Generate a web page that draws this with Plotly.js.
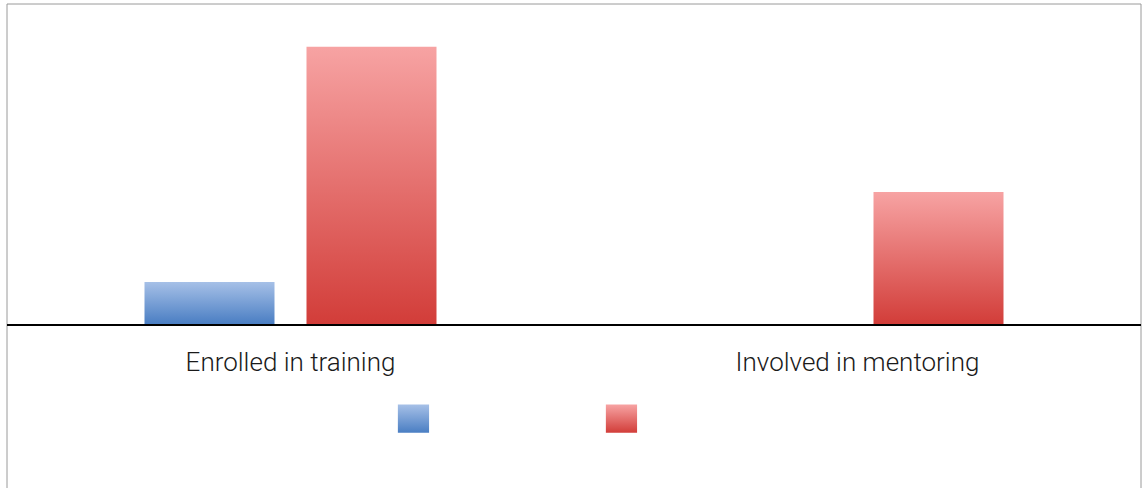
<!DOCTYPE html>
<html>
<head>
<meta charset="utf-8">
<script src="https://cdn.plot.ly/plotly-3.0.1.min.js"></script>
<style>
  html, body { margin: 0; padding: 0; background: #fff; }
  #chart { width: 1145px; height: 488px; }
</style>
</head>
<body>
<div id="chart"></div>
<script>
// ---- data ----
const categories = ["Enrolled in training", "Involved in mentoring"];
const seriesAName = "";
const seriesBName = "";
const seriesAValues = [10.5, 0];
const seriesBValues = [69.3, 33];
const yMax = 80;

const traces = [
  {
    type: "bar",
    x: categories,
    y: seriesAValues,
    name: seriesAName,
    marker: { color: "#7199d3", line: { width: 0 } }
  },
  {
    type: "bar",
    x: categories,
    y: seriesBValues,
    name: seriesBName,
    marker: { color: "#e57371", line: { width: 0 } }
  }
];

const layout = {
  width: 1145,
  height: 488,
  margin: { l: 7, r: 4, t: 4, b: 164, pad: 0 },
  paper_bgcolor: "#ffffff",
  plot_bgcolor: "#ffffff",
  barmode: "group",
  bargap: 0.4286,
  bargroupgap: 0.1975,
  showlegend: true,
  legend: {
    orientation: "h",
    x: 0.3408,
    xanchor: "left",
    y: -0.297,
    yanchor: "middle",
    entrywidth: 163,
    entrywidthmode: "pixels",
    font: { family: "Roboto", size: 14, color: "#222" },
    bgcolor: "rgba(0,0,0,0)"
  },
  xaxis: {
    type: "category",
    showline: true,
    linecolor: "#000000",
    linewidth: 2,
    showgrid: false,
    zeroline: false,
    ticks: "",
    ticklabelstandoff: 14,
    tickfont: { family: "Roboto", weight: 300, size: 26, color: "#1a1a1a" },
    fixedrange: true
  },
  yaxis: {
    range: [0, yMax],
    showline: false,
    showgrid: false,
    zeroline: false,
    showticklabels: false,
    ticks: "",
    fixedrange: true
  },
  shapes: [
    {
      type: "rect",
      xref: "paper", yref: "paper",
      x0: 0, x1: 1, y0: -0.7, y1: 1,
      line: { color: "#9a9a9a", width: 1 },
      fillcolor: "rgba(0,0,0,0)",
      layer: "below"
    }
  ]
};

function applyGradients(gd) {
  const svg = gd.querySelector("svg.main-svg");
  if (!svg) return;
  const ns = "http://www.w3.org/2000/svg";
  let defs = svg.querySelector("defs");
  if (!defs) { defs = document.createElementNS(ns, "defs"); svg.insertBefore(defs, svg.firstChild); }
  const grads = [
    { id: "gradBlue", top: "#a6c0e7", bottom: "#4a7ec3" },
    { id: "gradRed", top: "#f7a3a3", bottom: "#d23d39" }
  ];
  grads.forEach(g => {
    if (defs.querySelector("#" + g.id)) return;
    const lg = document.createElementNS(ns, "linearGradient");
    lg.setAttribute("id", g.id);
    lg.setAttribute("x1", "0"); lg.setAttribute("y1", "0");
    lg.setAttribute("x2", "0"); lg.setAttribute("y2", "1");
    const s1 = document.createElementNS(ns, "stop");
    s1.setAttribute("offset", "0"); s1.setAttribute("stop-color", g.top);
    const s2 = document.createElementNS(ns, "stop");
    s2.setAttribute("offset", "1"); s2.setAttribute("stop-color", g.bottom);
    lg.appendChild(s1); lg.appendChild(s2);
    defs.appendChild(lg);
  });
  gd.querySelectorAll(".barlayer .trace.bars").forEach((tg, i) => {
    const id = i === 0 ? "gradBlue" : "gradRed";
    tg.querySelectorAll("path").forEach(p => { p.style.fill = "url(#" + id + ")"; });
  });
  gd.querySelectorAll(".legend .traces").forEach((lt, i) => {
    const id = i === 0 ? "gradBlue" : "gradRed";
    lt.querySelectorAll(".legendpoints path").forEach(p => {
      p.style.fill = "url(#" + id + ")";
      p.style.stroke = "none";
      const tr = p.getAttribute("transform") || "";
      p.setAttribute("transform", tr + " scale(2.6,2.35)");
    });
  });
}

Plotly.newPlot("chart", traces, layout, { displayModeBar: false, staticPlot: true }).then(gd => {
  applyGradients(gd);
});
</script>
</body>
</html>
